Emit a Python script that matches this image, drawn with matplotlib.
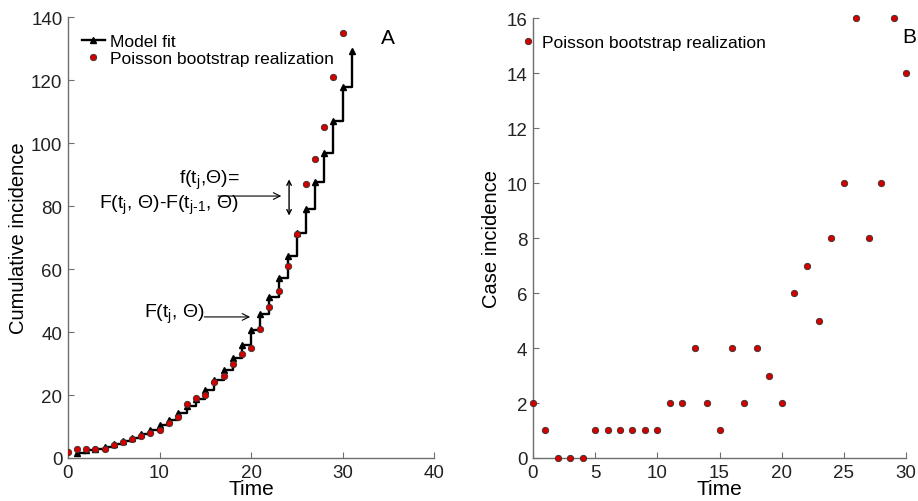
import numpy as np
import matplotlib.pyplot as plt

plt.rcParams['font.family'] = ['Liberation Sans', 'DejaVu Sans']
plt.rcParams['mathtext.fontset'] = 'custom'
plt.rcParams['mathtext.rm'] = 'Liberation Sans'
plt.rcParams['mathtext.it'] = 'Liberation Sans'

# Datos
t_case = np.arange(0, 31)
case_incidence = [2, 1, 0, 0, 0, 1, 1, 1, 1, 1, 1, 2, 2, 4, 2, 1, 4, 2, 4, 3, 2,
                  6, 7, 5, 8, 10, 16, 8, 10, 16, 14]

t_model = np.arange(1, 32)
model_fit = [1.7, 2.4, 3.0, 3.6, 4.4, 5.3, 6.3, 7.6, 9.0, 10.4, 12.2, 14.2, 16.5,
             18.8, 21.7, 24.8, 28.1, 31.8, 36.0, 40.7, 45.6, 51.1, 57.1, 64.1,
             71.5, 79.0, 87.6, 96.8, 106.9, 117.8, 129.4]

cum_incidence = np.cumsum(case_incidence)

axis_gray = '#6e6e6e'
red = '#d40000'
ms = 4.6


def style_axes(ax):
    for s in ['top', 'right']:
        ax.spines[s].set_visible(False)
    for s in ['left', 'bottom']:
        ax.spines[s].set_color(axis_gray)
        ax.spines[s].set_linewidth(1.0)
    ax.tick_params(direction='in', length=4, color=axis_gray, labelsize=13.5,
                   labelcolor='#222222')
    ax.tick_params(axis='x', pad=4)
    ax.tick_params(axis='y', pad=4)


fig = plt.figure(figsize=(9.18, 5.02), dpi=100)

# Panel A
ax1 = fig.add_axes([0.074, 0.0857, 0.399, 0.878])
ax1.step(t_model, model_fit, where='post', color='black', linewidth=1.7, zorder=2)
ax1.plot(t_model, model_fit, linestyle='none', marker='^', color='black',
         markersize=5, zorder=3)
ax1.plot(t_case, cum_incidence, linestyle='none', marker='o', markerfacecolor=red,
         markeredgecolor='#333333', markeredgewidth=0.6, markersize=ms, zorder=4)
ax1.plot([], [], color='black', marker='^', markersize=5, linewidth=1.7, label='Model fit')
ax1.plot([], [], linestyle='none', marker='o', markerfacecolor=red,
         markeredgecolor='#333333', markeredgewidth=0.6, markersize=ms,
         label='Poisson bootstrap realization')
ax1.set_xlim(0, 40)
ax1.set_ylim(0, 140)
ax1.set_xticks([0, 10, 20, 30, 40])
ax1.set_yticks(np.arange(0, 141, 20))
ax1.set_xlabel('Time', fontsize=15, labelpad=-1)
ax1.set_ylabel('Cumulative incidence', fontsize=14.5, labelpad=2)
style_axes(ax1)
ax1.legend(loc='upper left', bbox_to_anchor=(0.01, 0.985), frameon=False, fontsize=12.5,
           handlelength=1.3, handletextpad=0.3, borderaxespad=0.2, labelspacing=0.1)
ax1.text(0.855, 0.955, 'A', transform=ax1.transAxes, fontsize=15, ha='left', va='center')

# Anotaciones
ax1.annotate('', xy=(24.15, 88.5), xytext=(24.15, 77.0),
             arrowprops=dict(arrowstyle='<->', color='black', lw=1.0,
                             shrinkA=0, shrinkB=0, mutation_scale=8))
ax1.annotate('', xy=(23.3, 83.2), xytext=(16.4, 83.2),
             arrowprops=dict(arrowstyle='->', color='black', lw=0.8,
                             shrinkA=0, shrinkB=0, mutation_scale=12))
ax1.text(15.4, 88.4, r'f(t$_{\rm j}$,$\Theta$)=', fontsize=14, ha='center', va='center')
ax1.text(11.0, 80.4, r'F(t$_{\rm j}$, $\Theta$)-F(t$_{\rm j\text{-}1}$, $\Theta$)',
         fontsize=14, ha='center', va='center')
ax1.annotate('', xy=(19.9, 44.8), xytext=(14.9, 44.8),
             arrowprops=dict(arrowstyle='->', color='black', lw=0.8,
                             shrinkA=0, shrinkB=0, mutation_scale=12))
ax1.text(14.9, 46.0, r'F(t$_{\rm j}$, $\Theta$)', fontsize=14, ha='right', va='center')

# Panel B
ax2 = fig.add_axes([0.5806, 0.0857, 0.4064, 0.876])
ax2.plot(t_case, case_incidence, linestyle='none', marker='o', markerfacecolor=red,
         markeredgecolor='#333333', markeredgewidth=0.6, markersize=ms,
         label='Poisson bootstrap realization', clip_on=False, zorder=4)
ax2.set_xlim(0, 30)
ax2.set_ylim(0, 16)
ax2.set_xticks(np.arange(0, 31, 5))
ax2.set_yticks(np.arange(0, 17, 2))
ax2.set_xlabel('Time', fontsize=15, labelpad=-1)
ax2.set_ylabel('Case incidence', fontsize=14.5, labelpad=4)
style_axes(ax2)
ax2.legend(loc='upper left', bbox_to_anchor=(-0.065, 0.985), frameon=False, fontsize=12.5,
           handlelength=1.0, handletextpad=0.3, borderaxespad=0.2)
fig.text(0.998, 0.925, 'B', fontsize=15, ha='right', va='center')

fig.savefig('out.png', dpi=100)
